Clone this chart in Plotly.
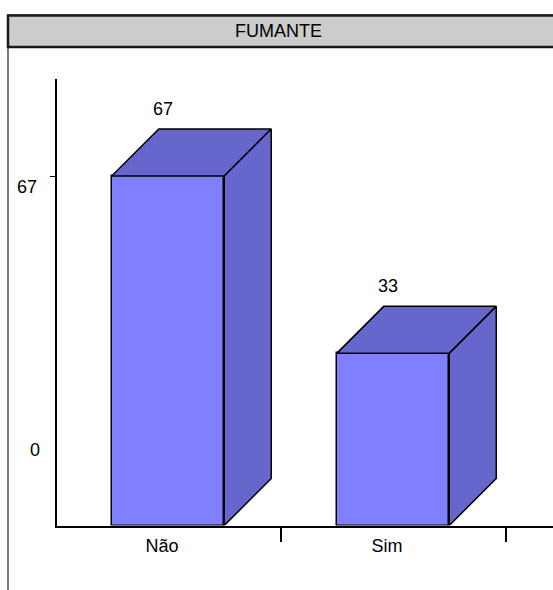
import plotly.graph_objects as go

# Data
CATEGORIES = ["Não", "Sim"]
VALUES = [67, 33]
Y_TICK_VALUES = [67, 0]
TITLE = "FUMANTE"

# Canvas geometry (pixels)
W, H = 553, 590
PLOT_LEFT, PLOT_RIGHT = 57, 553
PLOT_TOP, PLOT_BOTTOM = 79, 525.5
CAT_PX = 225            # width of one category band
Y_PX_PER_UNIT = 5.216   # vertical scale
DEPTH_PX = 47           # 3-D depth offset (right and up)
BAR_WIDTH = 0.5

FRONT = "#8080ff"
SHADE = "#6666cc"
FONT = dict(family="Liberation Sans, Arial, sans-serif", size=18, color="black")

x_lo = -0.5 + 1.5 / CAT_PX
x_hi = x_lo + (PLOT_RIGHT - PLOT_LEFT) / CAT_PX
y_hi = (PLOT_BOTTOM - PLOT_TOP) / Y_PX_PER_UNIT
dx = DEPTH_PX / CAT_PX
dy = DEPTH_PX / Y_PX_PER_UNIT

positions = list(range(len(CATEGORIES)))

fig = go.Figure()

# front faces
fig.add_trace(go.Bar(
    x=positions, y=VALUES, width=BAR_WIDTH,
    marker=dict(color=FRONT, line=dict(color="black", width=1.5)),
    hoverinfo="skip", showlegend=False,
))

# top and side faces of each box
for xc, v in zip(positions, VALUES):
    l, r = xc - BAR_WIDTH / 2, xc + BAR_WIDTH / 2
    fig.add_trace(go.Scatter(
        x=[l, l + dx, r + dx, r, l], y=[v, v + dy, v + dy, v, v],
        mode="lines", fill="toself", fillcolor=SHADE,
        line=dict(color="black", width=1.5), hoverinfo="skip", showlegend=False,
    ))
    fig.add_trace(go.Scatter(
        x=[r, r + dx, r + dx, r, r], y=[0, dy, v + dy, v, 0],
        mode="lines", fill="toself", fillcolor=SHADE,
        line=dict(color="black", width=1.5), hoverinfo="skip", showlegend=False,
    ))

annotations = []
# value labels above the boxes
for xc, v in zip(positions, VALUES):
    annotations.append(dict(
        x=xc, y=v, xref="x", yref="y", text=str(v), showarrow=False,
        xanchor="center", yanchor="middle", xshift=-5, yshift=DEPTH_PX + 20.5,
        font=FONT,
    ))

# value-axis labels (right edge in px, vertical offset in px)
label_place = {67: (38.5, -10.5), 0: (41.5, 75.5)}
for tv in Y_TICK_VALUES:
    right_px, shift = label_place[tv]
    annotations.append(dict(
        x=right_px / W, y=tv, xref="paper", yref="y", text=str(tv), showarrow=False,
        xanchor="right", yanchor="middle", yshift=shift, font=FONT,
    ))

# title
annotations.append(dict(
    x=278 / W, y=1 - 30.5 / H, xref="paper", yref="paper", text=TITLE,
    showarrow=False, xanchor="center", yanchor="middle", font=FONT,
))

shapes = [
    # outer frame
    dict(type="rect", xref="paper", yref="paper", layer="below",
         x0=8 / W, x1=1.1, y0=-0.1, y1=1 - 15 / H,
         line=dict(color="#4d4d4d", width=1.5), fillcolor="rgba(0,0,0,0)"),
    # title band
    dict(type="rect", xref="paper", yref="paper", layer="below",
         x0=8 / W, x1=1.1, y0=1 - 47 / H, y1=1 - 15.5 / H,
         line=dict(color="#1a1a1a", width=2.5), fillcolor="#cccccc"),
]

fig.update_layout(
    width=W, height=H,
    margin=dict(l=0, r=0, t=0, b=0),
    paper_bgcolor="white", plot_bgcolor="white",
    font=FONT,
    showlegend=False,
    bargap=0,
    annotations=annotations,
    shapes=shapes,
    xaxis=dict(
        domain=[PLOT_LEFT / W, PLOT_RIGHT / W],
        range=[x_lo, x_hi],
        tickmode="array", tickvals=positions, ticktext=CATEGORIES,
        ticks="", ticklabelshift=-6, ticklabelstandoff=3,
        showline=True, linecolor="black", linewidth=1.5,
        showgrid=False, zeroline=False,
        minor=dict(tickmode="array", tickvals=[p + 0.5 for p in positions],
                   ticks="outside", ticklen=15, tickwidth=1.5, tickcolor="black",
                   showgrid=False),
        tickfont=FONT, fixedrange=True,
    ),
    yaxis=dict(
        domain=[1 - PLOT_BOTTOM / H, 1 - PLOT_TOP / H],
        range=[0, y_hi],
        tickmode="array", tickvals=[67], showticklabels=False,
        ticks="outside", ticklen=5, tickwidth=1, tickcolor="black",
        showline=True, linecolor="black", linewidth=1.5,
        showgrid=False, zeroline=False, fixedrange=True,
    ),
)

fig.write_html("out.html")
